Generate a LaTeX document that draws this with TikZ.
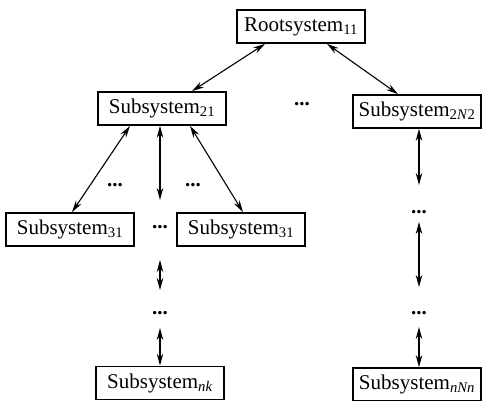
\documentclass[tikz,border=0pt]{standalone}
\usepackage{fontspec}
\setmainfont{Liberation Serif}
\usetikzlibrary{arrows.meta}

\tikzset{
  sysbox/.style={rectangle,draw,line width=1.7pt,minimum width=128pt,minimum height=33pt,inner sep=2pt,font=\fontsize{21}{24}\selectfont},
  dotsnode/.style={inner sep=0pt,font=\fontsize{21}{24}\selectfont\bfseries},
  link/.style={{Stealth[length=12pt,width=6.5pt]}-{Stealth[length=12pt,width=6.5pt]},line width=1.1pt}
}

\begin{document}
\begin{tikzpicture}[x=1pt,y=-1pt]
\useasboundingbox (0,0) rectangle (482,400);
% boxes
\node [sysbox] (root) at (301,26.5) {Rootsystem\textsubscript{11}};
\node [sysbox] (s21) at (162,108.5) {Subsystem\textsubscript{21}};
\node [sysbox] (s2n) at (417,111.5) {Subsystem\textsubscript{2\textit{N}2}};
\node [sysbox] (s31a) at (70,229.5) {Subsystem\textsubscript{31}};
\node [sysbox] (s31b) at (241,229.5) {Subsystem\textsubscript{31}};
\node [sysbox] (snk) at (160,383) {Subsystem\textsubscript{\textit{nk}}};
\node [sysbox] (snn) at (417,384.5) {Subsystem\textsubscript{\textit{nNn}}};
% dots
\node [dotsnode] (d1) at (302,104) {...};
\node [dotsnode] (d2) at (115,185) {...};
\node [dotsnode] (d3) at (193,185) {...};
\node [dotsnode] (d4) at (160,227) {...};
\node [dotsnode] (d5) at (160,313) {...};
\node [dotsnode] (d6) at (419,212) {...};
\node [dotsnode] (d7) at (419,313) {...};
% free ends
\coordinate (m1) at (160,200);
\coordinate (m2) at (160,260);
\coordinate (m3) at (160,290);
\coordinate (m4) at (160,328);
\coordinate (r1) at (419,185);
\coordinate (r2) at (419,222);
\coordinate (r3) at (419,287);
\coordinate (r4) at (419,327);
% links
\draw [link] ([xshift=-36pt]root.south) -- ([xshift=30pt]s21.north);
\draw [link] ([xshift=26pt]root.south) -- ([xshift=-19pt]s2n.north);
\draw [link] ([xshift=-32pt]s21.south) -- ([xshift=2pt]s31a.north);
\draw [link] ([xshift=28pt]s21.south) -- ([xshift=2pt]s31b.north);
\draw [link] (s21.south -| m1) -- (m1);
\draw [link] (m2) -- (m3);
\draw [link] (m4) -- (snk.north);
\draw [link] (s2n.south -| r1) -- (r1);
\draw [link] (r2) -- (r3);
\draw [link] (r4) -- (snn.north -| r4);
\end{tikzpicture}
\end{document}
